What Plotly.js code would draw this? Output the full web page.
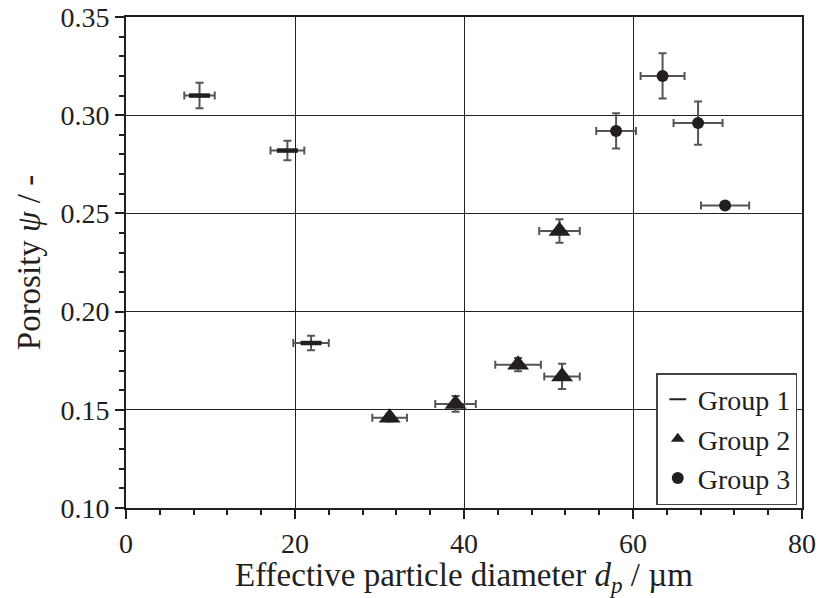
<!DOCTYPE html>
<html>
<head>
<meta charset="utf-8">
<script src="https://cdn.plot.ly/plotly-3.0.1.min.js"></script>
<style>body{margin:0;padding:0;background:#fff;} #chart{width:820px;height:598px;}</style>
</head>
<body>
<div id="chart"></div>
<script>
// Group 1
const g1_x = [8.7, 19.1, 21.9];
const g1_y = [0.310, 0.282, 0.184];
const g1_xerr = [1.8, 2.0, 2.1];
const g1_yerr = [0.0065, 0.005, 0.0037];
// Group 2
const g2_x = [31.2, 39.0, 46.4, 51.3, 51.6];
const g2_y = [0.146, 0.153, 0.173, 0.241, 0.167];
const g2_xerr = [2.05, 2.4, 2.7, 2.4, 2.1];
const g2_yerr = [0.002, 0.004, 0.0034, 0.006, 0.0064];
// Group 3
const g3_x = [63.5, 58.0, 67.7, 70.9];
const g3_y = [0.320, 0.292, 0.296, 0.254];
const g3_xerr = [2.6, 2.35, 2.9, 2.85];
const g3_yerr = [0.0115, 0.009, 0.011, 0.0];
const legendNames = ['Group 1', 'Group 2', 'Group 3'];

const ink = '#231f20';
const errCol = '#555555';
function errs(xe, ye) {
  return {
    error_x: {type: 'data', array: xe, visible: true, color: errCol, thickness: 2, width: 4},
    error_y: {type: 'data', array: ye, visible: true, color: errCol, thickness: 2, width: 4}
  };
}
const traces = [
  Object.assign({x: g1_x, y: g1_y, name: legendNames[0], mode: 'markers', type: 'scatter',
    marker: {symbol: 'line-ew', size: 15, color: ink, line: {color: ink, width: 4.5}}}, errs(g1_xerr, g1_yerr)),
  Object.assign({x: g2_x, y: g2_y, name: legendNames[1], mode: 'markers', type: 'scatter',
    marker: {symbol: 'triangle-up', size: 19, color: ink}}, errs(g2_xerr, g2_yerr)),
  Object.assign({x: g3_x, y: g3_y, name: legendNames[2], mode: 'markers', type: 'scatter',
    marker: {symbol: 'circle', size: 12, color: ink}}, errs(g3_xerr, g3_yerr))
];
const font = '"Liberation Serif", "Times New Roman", Times, serif';
const layout = {
  width: 820, height: 598,
  margin: {l: 126, r: 18, t: 17, b: 90},
  paper_bgcolor: '#fff', plot_bgcolor: '#fff',
  font: {family: font, color: ink, size: 28},
  showlegend: true,
  legend: {x: 0.993, y: 0.006, xanchor: 'right', yanchor: 'bottom',
    bgcolor: '#fff', bordercolor: '#444', borderwidth: 1.5,
    font: {family: font, size: 28, color: ink}, itemsizing: 'constant', itemwidth: 30, tracegroupgap: 4},
  xaxis: {
    range: [0, 80], dtick: 20, tick0: 0,
    showgrid: true, gridcolor: '#222', gridwidth: 1,
    zeroline: false, showline: true, linecolor: ink, linewidth: 2, mirror: true,
    ticks: 'outside', ticklen: 9, tickwidth: 2, tickcolor: ink,
    minor: {dtick: 4, ticks: 'outside', ticklen: 5, tickwidth: 2, tickcolor: ink, showgrid: false},
    tickfont: {size: 28, family: font, color: ink},
    title: {text: 'Effective particle diameter <i>d<sub>p</sub></i> / µm', font: {size: 33, family: font, color: ink}, standoff: 4}
  },
  yaxis: {
    range: [0.10, 0.35], dtick: 0.05, tick0: 0.10, tickformat: '.2f',
    showgrid: true, gridcolor: '#222', gridwidth: 1,
    zeroline: false, showline: true, linecolor: ink, linewidth: 2, mirror: true,
    ticks: 'outside', ticklen: 9, tickwidth: 2, tickcolor: ink,
    minor: {dtick: 0.01, ticks: 'outside', ticklen: 5, tickwidth: 2, tickcolor: ink, showgrid: false},
    tickfont: {size: 28, family: font, color: ink},
    title: {text: 'Porosity <i>ψ</i> / -', font: {size: 33, family: font, color: ink}, standoff: 10}
  }
};
Plotly.newPlot('chart', traces, layout, {displayModeBar: false, staticPlot: true});
</script>
</body>
</html>
